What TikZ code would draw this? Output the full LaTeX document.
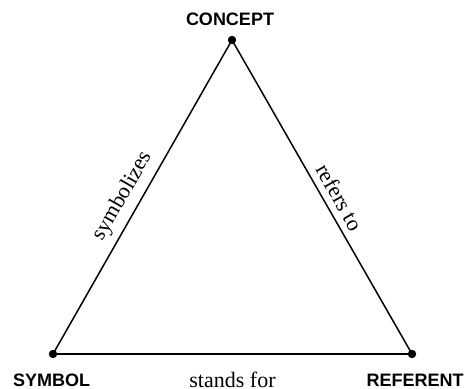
\documentclass[tikz,border=0pt]{standalone}
\usepackage{fontspec}
\setmainfont{Liberation Serif}
\setsansfont{Liberation Sans}
\usetikzlibrary{positioning}

\begin{document}
\begin{tikzpicture}[x=0.5pt, y=-0.5pt, line width=0.75pt]
		\useasboundingbox (0,0) rectangle (465,389);
		
		% Corner names
		\begin{scope}[every node/.style={font=\sffamily\bfseries\fontsize{9}{9}\selectfont}]
			\node (concept) at (230,19) {CONCEPT};
			\node (symbol) at (51.5,380) {SYMBOL};
			\node (referent) at (415,380) {REFERENT};
		\end{scope}
		
		% Corners
		\begin{scope}[every node/.style={circle,fill,inner sep=0pt,minimum size=4.2pt}]
			\node (c) at (232,40) {};
			\node (s) at (53,354) {};
			\node (r) at (412,354) {};
		\end{scope}
		
		% Sides
		\begin{scope}[every node/.style={font=\fontsize{11}{13}\selectfont}]
			\draw (s.center) -- node[pos=0.475,sloped,above] (symbolizes) {symbolizes} (c.center);
			\draw (c.center) -- node[pos=0.525,sloped,above] (refers) {refers to} (r.center);
			\draw (s.center) -- node[below=8pt,inner sep=0.5pt] (stands) {stands for} (r.center);
		\end{scope}
	\end{tikzpicture}
\end{document}
